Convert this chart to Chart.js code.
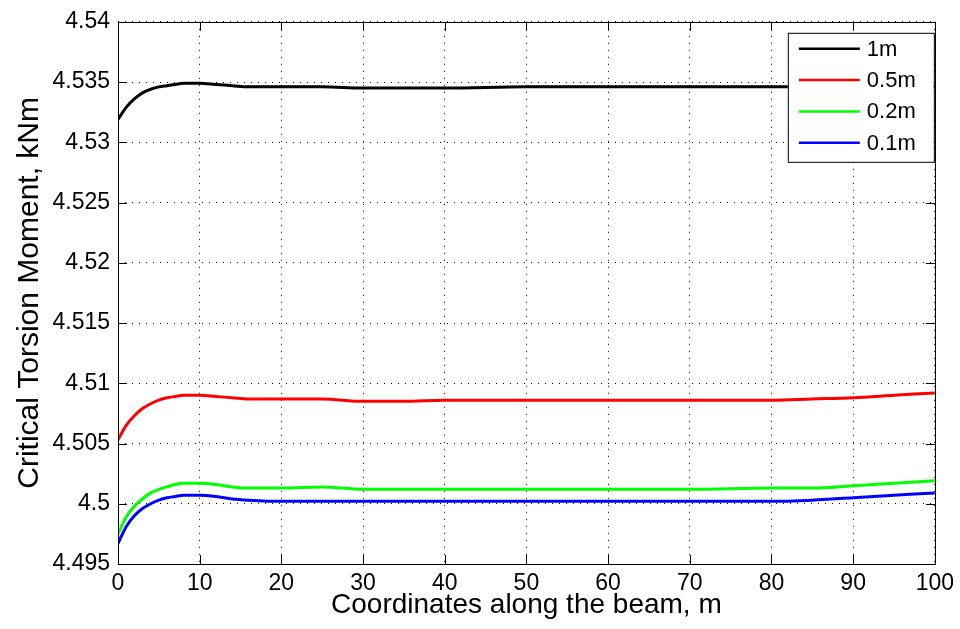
<!DOCTYPE html>
<html>
<head>
<meta charset="utf-8">
<script src="https://cdn.jsdelivr.net/npm/chart.js@4.4.0/dist/chart.umd.min.js"></script>
<style>
  html, body { margin: 0; padding: 0; background: #fff; }
  #wrap { width: 960px; height: 629px; }
</style>
</head>
<body>
<div id="wrap"><canvas id="chart" width="960" height="629"></canvas></div>
<script>
// positions along the beam (m)
const xs = [0, 1, 2, 3, 4, 5, 6, 7, 8, 9, 10, 12, 14, 16, 20, 25, 30, 35, 40, 50, 60, 70, 80, 85, 90, 95, 100];

// critical torsion moment (kNm) for each element size
const m1   = [4.5319, 4.5329, 4.5336, 4.5341, 4.5344, 4.5346, 4.5347, 4.5348, 4.5349, 4.5349, 4.5349, 4.5348, 4.5347, 4.5346, 4.5346, 4.5346, 4.5345, 4.5345, 4.5345, 4.5346, 4.5346, 4.5346, 4.5346, 4.5346, 4.5346, 4.5346, 4.5346];
const m05  = [4.5053, 4.5065, 4.5073, 4.5079, 4.5083, 4.5086, 4.5088, 4.5089, 4.5090, 4.5090, 4.5090, 4.5089, 4.5088, 4.5087, 4.5087, 4.5087, 4.5085, 4.5085, 4.5086, 4.5086, 4.5086, 4.5086, 4.5086, 4.5087, 4.5088, 4.5090, 4.5092];
const m02  = [4.4975, 4.4989, 4.4998, 4.5004, 4.5009, 4.5012, 4.5014, 4.5016, 4.5017, 4.5017, 4.5017, 4.5016, 4.5014, 4.5013, 4.5013, 4.5014, 4.5012, 4.5012, 4.5012, 4.5012, 4.5012, 4.5012, 4.5013, 4.5013, 4.5015, 4.5017, 4.5019];
const m01  = [4.4967, 4.4981, 4.4990, 4.4996, 4.5000, 4.5003, 4.5005, 4.5006, 4.5007, 4.5007, 4.5007, 4.5006, 4.5004, 4.5003, 4.5002, 4.5002, 4.5002, 4.5002, 4.5002, 4.5002, 4.5002, 4.5002, 4.5002, 4.5003, 4.5005, 4.5007, 4.5009];

const seriesNames = ['1m', '0.5m', '0.2m', '0.1m'];
const seriesColors = ['#000000', '#ff0000', '#00ff00', '#0000ff'];
const seriesValues = [m1, m05, m02, m01];

const FONT = 'Liberation Sans, Arial, sans-serif';

//turns the arrays into {x,y} points for the line chart
function toPoints(vals) {
  return vals.map((v, i) => ({ x: xs[i], y: v }));
}

// MATLAB style box with inward ticks on all four sides
const boxPlugin = {
  id: 'box',
  afterDatasetsDraw(chart) {
    const { ctx, chartArea: a, scales } = chart;
    ctx.save();
    ctx.strokeStyle = '#000';
    ctx.lineWidth = 1;
    ctx.beginPath();
    const tl = 9;
    scales.x.ticks.forEach(t => {
      const px = Math.round(scales.x.getPixelForValue(t.value)) + 0.5;
      ctx.moveTo(px, a.bottom); ctx.lineTo(px, a.bottom - tl);
      ctx.moveTo(px, a.top); ctx.lineTo(px, a.top + tl);
    });
    scales.y.ticks.forEach(t => {
      const py = Math.round(scales.y.getPixelForValue(t.value)) + 0.5;
      ctx.moveTo(a.left, py); ctx.lineTo(a.left + tl, py);
      ctx.moveTo(a.right, py); ctx.lineTo(a.right - tl, py);
    });
    ctx.stroke();
    ctx.strokeRect(Math.round(a.left) + 0.5, Math.round(a.top) + 0.5,
                   Math.round(a.right - a.left), Math.round(a.bottom - a.top));
    ctx.restore();
  }
};

// legend box inside the top right corner of the plot
const legendPlugin = {
  id: 'boxLegend',
  afterDraw(chart) {
    const { ctx, chartArea: a } = chart;
    const w = 146, h = 129;
    const x0 = a.right - w - 1, y0 = a.top + 11;
    ctx.save();
    ctx.fillStyle = '#fff';
    ctx.fillRect(x0, y0, w, h);
    ctx.strokeStyle = '#000';
    ctx.lineWidth = 1;
    ctx.strokeRect(x0 + 0.5, y0 + 0.5, w, h);
    ctx.font = '22px ' + FONT;
    ctx.textBaseline = 'middle';
    chart.data.datasets.forEach((ds, i) => {
      const y = y0 + 16 + i * 31.3;
      ctx.strokeStyle = ds.borderColor;
      ctx.lineWidth = 2.5;
      ctx.beginPath();
      ctx.moveTo(x0 + 11, y);
      ctx.lineTo(x0 + 72, y);
      ctx.stroke();
      ctx.fillStyle = '#000';
      ctx.fillText(ds.label, x0 + 79, y + 1);
    });
    ctx.restore();
  }
};

const ctx = document.getElementById('chart').getContext('2d');
const chart = new Chart(ctx, {
  type: 'line',
  data: {
    datasets: seriesNames.map((name, i) => ({
      label: name,
      data: toPoints(seriesValues[i]),
      borderColor: seriesColors[i],
      backgroundColor: seriesColors[i],
      borderWidth: 3,
      pointRadius: 0,
      cubicInterpolationMode: 'monotone',
      fill: false
    }))
  },
  options: {
    responsive: false,
    animation: false,
    layout: { padding: { top: 17, right: 22, left: 0, bottom: 0 } },
    plugins: {
      legend: { display: false },
      tooltip: { enabled: false }
    },
    scales: {
      x: {
        type: 'linear',
        min: 0,
        max: 100,
        ticks: {
          stepSize: 10,
          color: '#000',
          padding: 6,
          font: { family: FONT, size: 23 },
          maxRotation: 0
        },
        grid: { color: '#000', drawTicks: false, lineWidth: 1 },
        border: { display: false, dash: [1, 6] },
        title: {
          display: true,
          text: 'Coordinates along the beam, m',
          color: '#000',
          font: { family: FONT, size: 28 },
          padding: 7
        },
        afterFit(scale) { scale.height = 65; }
      },
      y: {
        min: 4.495,
        max: 4.54,
        ticks: {
          stepSize: 0.005,
          color: '#000',
          padding: 8,
          font: { family: FONT, size: 23 },
          callback: v => String(Number(v.toFixed(3)))
        },
        grid: { color: '#000', drawTicks: false, lineWidth: 1 },
        border: { display: false, dash: [1, 6] },
        title: {
          display: true,
          text: 'Critical Torsion Moment, kNm',
          color: '#000',
          font: { family: FONT, size: 30 },
          padding: 12
        },
        afterFit(scale) { scale.width = 118; }
      }
    }
  },
  plugins: [boxPlugin, legendPlugin]
});
</script>
</body>
</html>
